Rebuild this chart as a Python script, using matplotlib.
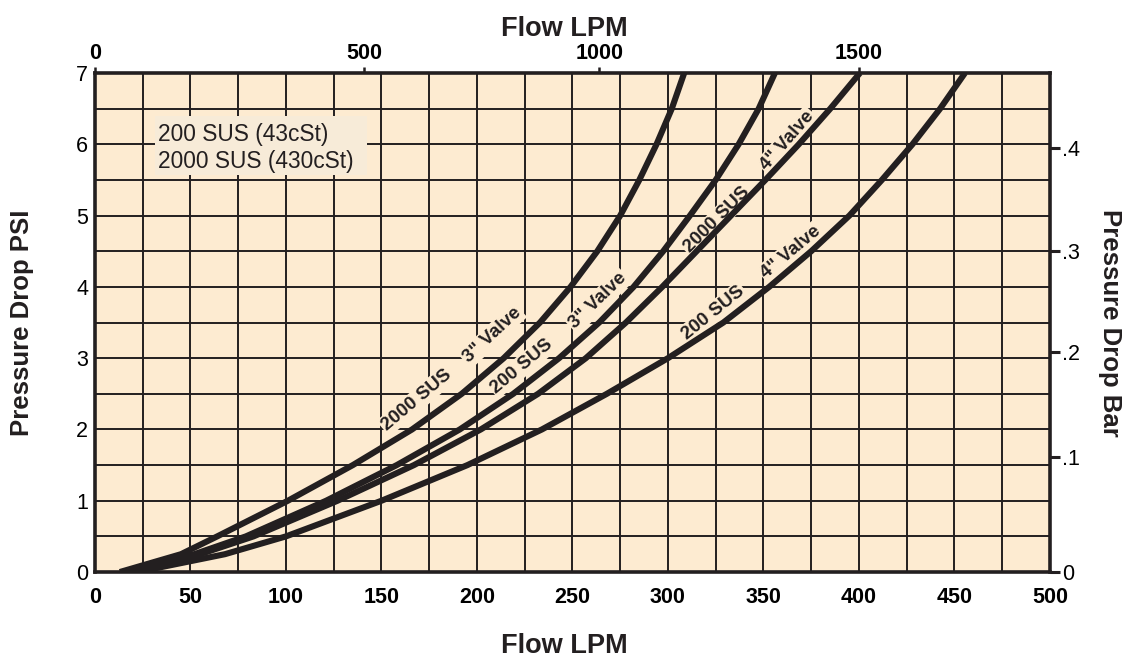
import numpy as np
import matplotlib.pyplot as plt
from matplotlib.patches import Rectangle

plt.rcParams['font.family'] = ['Liberation Sans', 'DejaVu Sans']

# pressure drop levels (psi) and flow
psi = [0, 0.25, 0.5, 1, 1.5, 2, 2.5, 3, 3.5, 4, 4.5, 5, 5.5, 6, 6.5, 7]
flow_2000_3in = [13, 45, 64, 101, 135, 166, 192, 214, 233, 249, 263, 275, 285, 294, 302, 308.5]
flow_200_3in = [15, 52, 79, 121, 158, 191, 219, 243, 264, 282, 297.5, 311.5, 325, 337, 347.5, 356]
flow_2000_4in = [16, 55, 83, 127, 167, 202, 232, 257, 278, 297, 315, 333, 351, 368.5, 385, 400.5]
flow_200_4in = [22, 68, 100, 150, 195, 234, 268, 300, 329, 353, 375, 395, 412, 428, 442.5, 455.5]

bottom_ticks = list(range(0, 501, 50))
top_tick_pos = [0, 141, 264, 400]
top_tick_labels = ['0', '500', '1000', '1500']
bar_tick_pos = [0, 1.62, 3.08, 4.5, 5.95]
bar_tick_labels = ['0', '.1', '.2', '.3', '.4']
legend_lines = ['200 SUS (43cSt)', '2000 SUS (430cSt)']

ink = '#231f20'
bg = '#fdebd1'

fig = plt.figure(figsize=(11.46, 6.6), dpi=100)
ax = fig.add_axes([0.0829, 0.1333, 0.8333, 0.7561])
ax.set_facecolor(bg)
ax.set_xlim(0, 500)
ax.set_ylim(0, 7)

# grid
ax.set_xticks(bottom_ticks)
ax.set_xticks(np.arange(0, 501, 25), minor=True)
ax.set_yticks(range(0, 8))
ax.set_yticks(np.arange(0, 7.01, 0.5), minor=True)
ax.grid(which='both', color=ink, lw=1.4)
ax.tick_params(which='both', length=0)
ax.tick_params(axis='x', pad=11, labelsize=15.5)
ax.tick_params(axis='y', pad=5, labelsize=15.5)
for lab in ax.get_xticklabels():
    lab.set_fontweight('bold')
for sp in ax.spines.values():
    sp.set_linewidth(2.6)
    sp.set_color(ink)

# curves (drawn above the label backgrounds)
for flows in [flow_2000_3in, flow_200_3in, flow_2000_4in, flow_200_4in]:
    ax.plot(flows, psi, color=ink, lw=4.4, solid_capstyle='butt',
            solid_joinstyle='round', zorder=5)

# curve labels
lbl = dict(fontsize=13.5, fontweight='bold', color=ink, ha='center', va='center', zorder=4,
           bbox=dict(boxstyle='square,pad=0.1', fc=bg, ec='none'))
ax.text(168.6, 2.41, '2000 SUS', rotation=40, **lbl)
ax.text(208.0, 3.32, '3" Valve', rotation=43, **lbl)
ax.text(223.6, 2.89, '200 SUS', rotation=40, **lbl)
ax.text(263.5, 3.80, '3" Valve', rotation=44, **lbl)
ax.text(325.7, 4.94, '2000 SUS', rotation=45, **lbl)
ax.text(362.5, 6.05, '4" Valve', rotation=49, **lbl)
ax.text(323.6, 3.63, '200 SUS', rotation=39, **lbl)
ax.text(364.4, 4.49, '4" Valve', rotation=40, **lbl)

# viscosity box
ax.add_patch(Rectangle((31.4, 5.57), 111, 0.83, fc='#f7ebd8', ec='none', zorder=4))
ax.text(33, 5.95, '\n'.join(legend_lines), fontsize=16.4, color=ink, va='center', ha='left',
        linespacing=1.22, zorder=5)

ax.set_xlabel('Flow LPM', fontsize=19.5, fontweight='bold', color=ink)
ax.xaxis.set_label_coords(0.492, -0.122)
ax.set_ylabel('Pressure Drop PSI', fontsize=18.5, fontweight='bold', labelpad=30, color=ink)

# top axis
ax_top = ax.twiny()
ax_top.set_xlim(0, 500)
ax_top.set_xticks(top_tick_pos, top_tick_labels, fontweight='bold')
ax_top.tick_params(direction='out', length=4.5, width=1.8, color=ink, labelsize=15.5, pad=2)
ax_top.set_xlabel('Flow LPM', fontsize=19.5, fontweight='bold', color=ink)
ax_top.xaxis.set_label_coords(0.492, 1.075)
for sp in ax_top.spines.values():
    sp.set_visible(False)

# right axis
ax_right = ax.twinx()
ax_right.set_ylim(0, 7)
ax_right.set_yticks(bar_tick_pos, bar_tick_labels)
ax_right.tick_params(direction='out', length=7, width=2.2, color=ink, labelsize=15.5, pad=2)
ax_right.set_ylabel('Pressure Drop Bar', fontsize=18.5, fontweight='bold', rotation=270,
                    labelpad=30, color=ink)
for sp in ax_right.spines.values():
    sp.set_visible(False)

fig.savefig('out.png', dpi=100)
